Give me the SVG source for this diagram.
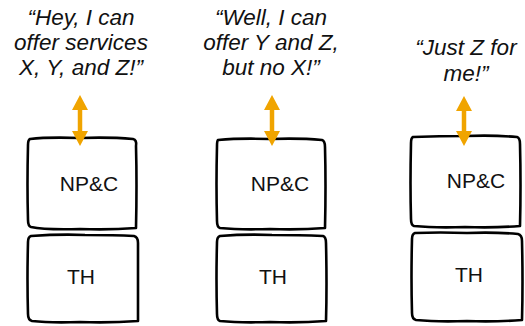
<svg xmlns="http://www.w3.org/2000/svg" width="525" height="326" viewBox="0 0 525 326">
<defs>
<style>
.q{font-family:"Liberation Sans",Arial,sans-serif;font-style:italic;font-size:22.5px;fill:#111;text-anchor:middle}
.lbl{font-family:"Liberation Sans",Arial,sans-serif;font-size:21px;fill:#111;text-anchor:middle}
.box{fill:#fff;stroke:#000;stroke-width:2.6;stroke-linejoin:round;stroke-linecap:round}
.shaft{stroke:#F0A400;stroke-width:4.5;fill:none}
.head{fill:#F0A400}
</style>
</defs>
<rect width="525" height="326" fill="#fff"/>
<g id="quote1">
<text class="q" x="81" y="25">“Hey, I can</text>
<text class="q" x="81" y="50">offer services</text>
<text class="q" x="81" y="75">X, Y, and Z!”</text>
</g>
<g id="quote2">
<text class="q" x="271" y="25">“Well, I can</text>
<text class="q" x="271" y="50">offer Y and Z,</text>
<text class="q" x="271" y="75">but no X!”</text>
</g>
<g id="quote3">
<text class="q" x="466" y="55">“Just Z for</text>
<text class="q" x="466" y="81">me!”</text>
</g>
<g id="npc1">
<path class="box" d="M30,139 Q47,137 80,138 Q110,137 133,139 Q137,140 136,146 Q137,185 136,228 Q110,230 80,229 Q45,230 31,227 Q28,226 28,220 Q27,185 28,145 Q28,140 30,139 Z"/>
<text class="lbl" x="89" y="191">NP&amp;C</text>
</g>
<g id="th1">
<path class="box" d="M31,236 Q60,234 85,235 Q115,235 134,236 Q138,237 138,243 Q138,285 138,321 Q110,323 80,322 Q50,323 32,321 Q28,320 28,314 Q27,280 28,242 Q28,237 31,236 Z"/>
<text class="lbl" x="81" y="284">TH</text>
</g>
<g id="npc2">
<path class="box" d="M218,140 Q240,138 270,139 Q300,138 322,140 Q325,141 325,147 Q326,185 325,228 Q300,230 270,229 Q240,230 220,228 Q217,227 217,221 Q216,185 217,146 Q217,141 218,140 Z"/>
<text class="lbl" x="280" y="191">NP&amp;C</text>
</g>
<g id="th2">
<path class="box" d="M220,236 Q245,234 272,235 Q300,235 323,236 Q326,237 326,243 Q327,285 326,321 Q300,323 270,322 Q240,323 220,321 Q217,320 217,314 Q216,280 217,242 Q217,237 220,236 Z"/>
<text class="lbl" x="273" y="284">TH</text>
</g>
<g id="npc3">
<path class="box" d="M413,137 Q440,136 465,136 Q495,135 517,137 Q520,138 520,144 Q521,185 520,226 Q495,228 465,227 Q435,228 414,226 Q411,225 411,219 Q410,185 411,143 Q411,138 413,137 Z"/>
<text class="lbl" x="476" y="188">NP&amp;C</text>
</g>
<g id="th3">
<path class="box" d="M415,233 Q440,232 467,233 Q495,232 518,234 Q522,235 522,241 Q523,282 522,320 Q495,322 467,321 Q437,322 416,320 Q412,319 412,313 Q411,278 412,239 Q412,234 415,233 Z"/>
<text class="lbl" x="469" y="282">TH</text>
</g>
<g id="connectors">
<line class="shaft" x1="80" y1="106" x2="80" y2="134"/>
<polygon class="head" points="80,95 72,110 88,110"/>
<polygon class="head" points="80,146 72,131 88,131"/>
<line class="shaft" x1="272" y1="106" x2="272" y2="134"/>
<polygon class="head" points="272,95 264,110 280,110"/>
<polygon class="head" points="272,146 264,131 280,131"/>
<line class="shaft" x1="464" y1="108" x2="464" y2="133"/>
<polygon class="head" points="464,96 456,111 472,111"/>
<polygon class="head" points="464,146 456,131 472,131"/>
</g>
</svg>
